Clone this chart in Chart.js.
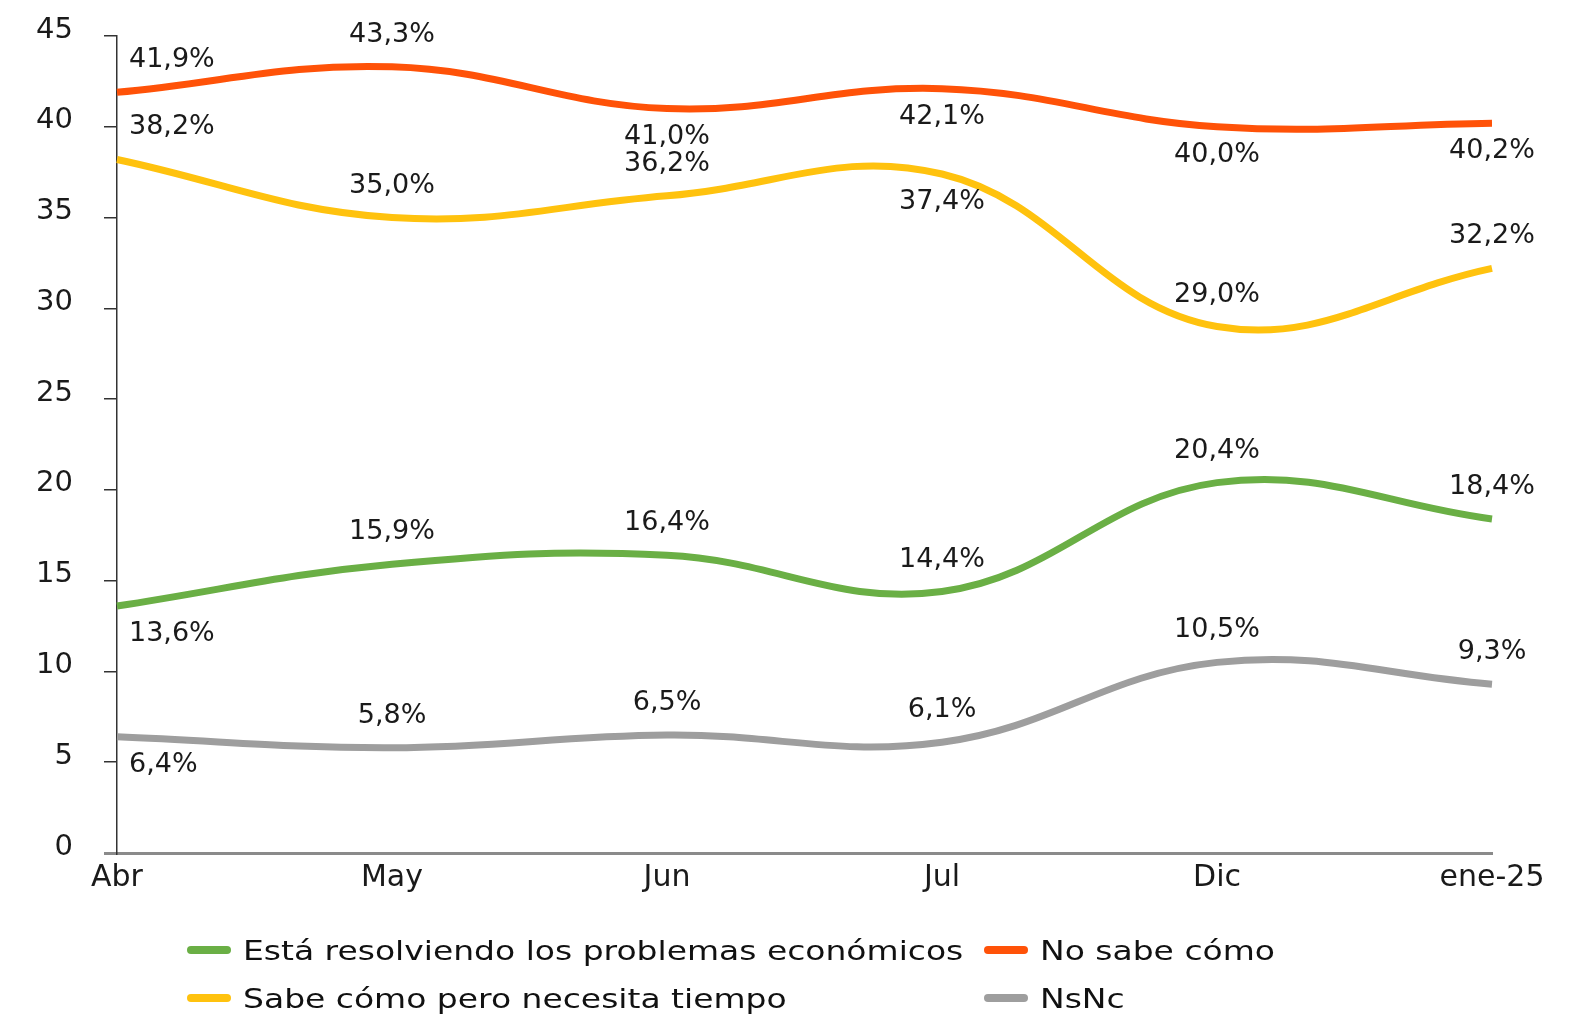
<!DOCTYPE html>
<html>
<head>
<meta charset="utf-8">
<script src="https://cdn.jsdelivr.net/npm/chart.js@4"></script>
<style>
  html, body { margin: 0; padding: 0; background: #fff; }
  #wrap { position: relative; width: 1587px; height: 1016px; }
  canvas { position: absolute; left: 0; top: 0; }
  .lg { position: absolute; font-family: "DejaVu Sans", sans-serif; font-size: 27px; color: #111; white-space: nowrap; line-height: 1; transform-origin: 0 50%; }
  .sw { position: absolute; width: 44px; height: 8px; border-radius: 4px; }
</style>
</head>
<body>
<div id="wrap">
  <canvas id="c" width="1587" height="1016"></canvas>
  <div id="legend"></div>
</div>
<script>
// ---- data ----
const categories = ['Abr', 'May', 'Jun', 'Jul', 'Dic', 'ene-25'];
const resolviendo = [13.6, 15.9, 16.4, 14.4, 20.4, 18.4];
const noSabe = [41.9, 43.3, 41.0, 42.1, 40.0, 40.2];
const sabeComo = [38.2, 35.0, 36.2, 37.4, 29.0, 32.2];
const nsnc = [6.4, 5.8, 6.5, 6.1, 10.5, 9.3];
const yTickValues = [0, 5, 10, 15, 20, 25, 30, 35, 40, 45];
const seriesNames = ['Está resolviendo los problemas económicos', 'No sabe cómo', 'Sabe cómo pero necesita tiempo', 'NsNc'];

// ---- label placement (style) ----
const placeResolviendo = ['below', 'above', 'above', 'above', 'above', 'above'];
const placeNoSabe = ['above', 'above', 'below', 'below', 'below', 'below'];
const placeSabeComo = ['above', 'above', 'above', 'below', 'above', 'above'];
const placeNsnc = ['below', 'above', 'above', 'above', 'above', 'above'];

const colors = ['#6AAF45', '#FF5208', '#FFC20E', '#9E9E9E'];
const FONT = '"DejaVu Sans", sans-serif';

const labelPlugin = {
  id: 'valueLabels',
  afterDatasetsDraw(chart) {
    const ctx = chart.ctx;
    ctx.save();
    ctx.font = '27px ' + FONT;
    ctx.fillStyle = '#1a1a1a';
    ctx.textBaseline = 'middle';
    chart.data.datasets.forEach((ds, di) => {
      const meta = chart.getDatasetMeta(di);
      meta.data.forEach((pt, i) => {
        const v = ds.data[i];
        const txt = v.toFixed(1).replace('.', ',') + '%';
        const dy = ds.place[i] === 'above' ? -32 : 28;
        if (i === 0) { ctx.textAlign = 'left'; ctx.fillText(txt, pt.x + 12, pt.y + dy); }
        else { ctx.textAlign = 'center'; ctx.fillText(txt, pt.x, pt.y + dy); }
      });
    });
    ctx.restore();
  }
};

const mk = (i, data, place) => ({
  label: seriesNames[i], data, place,
  borderColor: colors[i], backgroundColor: colors[i],
  borderWidth: 7, pointRadius: 0, tension: 0.4, fill: false, borderCapStyle: 'butt'
});

const chart = new Chart(document.getElementById('c'), {
  type: 'line',
  data: {
    labels: categories,
    datasets: [
      mk(0, resolviendo, placeResolviendo),
      mk(1, noSabe, placeNoSabe),
      mk(2, sabeComo, placeSabeComo),
      mk(3, nsnc, placeNsnc)
    ]
  },
  options: {
    responsive: false,
    animation: false,
    layout: { padding: { top: 36, right: 95, left: 0, bottom: 0 } },
    plugins: { legend: { display: false }, tooltip: { enabled: false } },
    scales: {
      x: {
        offset: false,
        grid: { display: false, drawTicks: false },
        border: { display: true, color: '#8a8a8a', width: 3 },
        ticks: { font: { family: FONT, size: 30 }, color: '#1a1a1a', padding: 7, maxRotation: 0, autoSkip: false },
        afterFit(s) { s.height = 163; }
      },
      y: {
        min: 0, max: 45,
        afterBuildTicks(s) { s.ticks = yTickValues.map(v => ({ value: v })); },
        grid: {
          drawOnChartArea: false, drawTicks: true, tickLength: 13,
          color: c => (c.tick && c.tick.value === 0) ? '#8a8a8a' : '#333',
          lineWidth: c => (c.tick && c.tick.value === 0) ? 3 : 1.5
        },
        border: { display: true, color: '#333', width: 1.5 },
        ticks: { font: { family: FONT, size: 29 }, color: '#1a1a1a', padding: 31, labelOffset: -6 },
        afterFit(s) { s.width = 117; s.paddingTop = 0; s.paddingBottom = 0; }
      }
    }
  },
  plugins: [labelPlugin]
});

// ---- legend (HTML, from the datasets) ----
const legendPos = [[187, 951], [984, 951], [187, 999], [984, 999]];
const lg = document.getElementById('legend');
let scaleX = 1;
chart.data.datasets.forEach((ds, i) => {
  const [x, y] = legendPos[i];
  const sw = document.createElement('div');
  sw.className = 'sw'; sw.style.left = x + 'px'; sw.style.top = (y - 5) + 'px'; sw.style.background = ds.borderColor;
  lg.appendChild(sw);
  const t = document.createElement('div');
  t.className = 'lg'; t.textContent = ds.label; t.style.left = (x + 56) + 'px'; t.style.top = (y - 14) + 'px';
  lg.appendChild(t);
  if (i === 0) scaleX = 720 / t.getBoundingClientRect().width;
});
document.querySelectorAll('.lg').forEach(el => { el.style.transform = 'scaleX(' + scaleX.toFixed(3) + ')'; });
</script>
</body>
</html>
